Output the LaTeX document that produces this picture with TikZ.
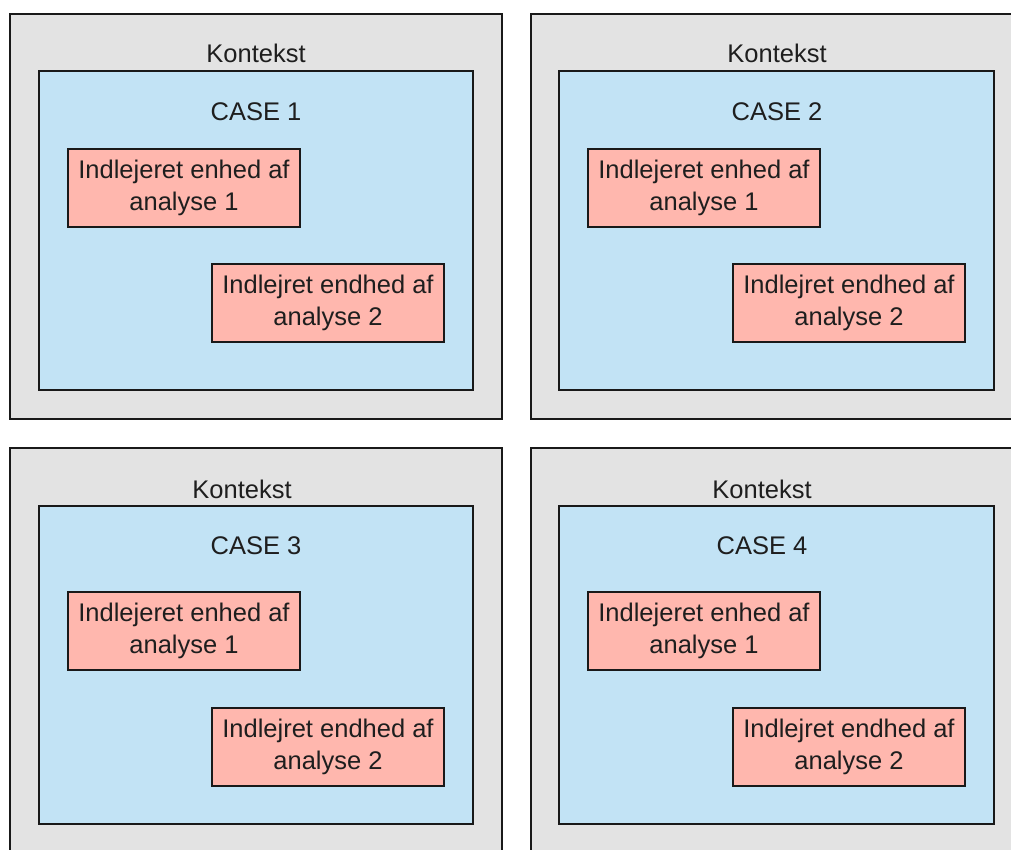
\documentclass[tikz,border=0pt]{standalone}
\usepackage{fontspec}
\setmainfont{Liberation Sans}
\definecolor{ctxgray}{HTML}{E3E3E3}
\definecolor{caseblue}{HTML}{C2E3F5}
\definecolor{unitpink}{HTML}{FFB7AE}
\definecolor{txt}{HTML}{1E1E1E}
\begin{document}
\begin{tikzpicture}[x=1pt,y=1pt,
  ctxbox/.style={draw=black!90, line width=2.6pt, fill=ctxgray, minimum height=405pt, inner sep=0pt},
  casebox/.style={draw=black!90, line width=2.6pt, fill=caseblue, minimum width=434pt, minimum height=319pt, inner sep=0pt},
  unitbox/.style={draw=black!90, line width=2.6pt, fill=unitpink, minimum width=232pt, minimum height=78pt, inner sep=0pt, align=center, text=txt, font=\fontsize{25.5}{32}\selectfont},
  lbl/.style={text=txt, font=\fontsize{25.5}{32}\selectfont, inner sep=0pt}]
\useasboundingbox (0,0) rectangle (1011,-849);
\begin{scope}
\clip (0,0) rectangle (1011,-849);
% outer context boxes
\node[ctxbox, minimum width=492pt] (o1) at (256,-216.5) {};
\node[ctxbox, minimum width=499pt] (o2) at (780.5,-216.5) {};
\node[ctxbox, minimum width=492pt, minimum height=432pt] (o3) at (256,-664) {};
\node[ctxbox, minimum width=499pt, minimum height=432pt] (o4) at (780.5,-664) {};
% case boxes
\node[casebox] (c1) at (256,-230.5) {};
\node[casebox, minimum width=435pt] (c2) at (776.5,-230.5) {};
\node[casebox, minimum height=318pt] (c3) at (256,-665) {};
\node[casebox, minimum width=435pt, minimum height=318pt] (c4) at (776.5,-665) {};
% labels
\node[lbl] (k1) at (256,-53) {Kontekst};
\node[lbl] (k2) at (777,-53) {Kontekst};
\node[lbl] (k3) at (242,-489) {Kontekst};
\node[lbl] (k4) at (762,-489) {Kontekst};
\node[lbl] (t1) at (256,-112) {CASE 1};
\node[lbl] (t2) at (777,-112) {CASE 2};
\node[lbl] (t3) at (256,-546) {CASE 3};
\node[lbl] (t4) at (762,-546) {CASE 4};
% units
\node[unitbox] (u11) at (184,-188) {Indlejeret enhed af\\analyse 1};
\node[unitbox] (u12) at (328,-303) {Indlejret endhed af\\analyse 2};
\node[unitbox] (u21) at (704,-188) {Indlejeret enhed af\\analyse 1};
\node[unitbox] (u22) at (849,-303) {Indlejret endhed af\\analyse 2};
\node[unitbox] (u31) at (184,-631) {Indlejeret enhed af\\analyse 1};
\node[unitbox] (u32) at (328,-747) {Indlejret endhed af\\analyse 2};
\node[unitbox] (u41) at (704,-631) {Indlejeret enhed af\\analyse 1};
\node[unitbox] (u42) at (849,-747) {Indlejret endhed af\\analyse 2};
\end{scope}
\end{tikzpicture}
\end{document}
